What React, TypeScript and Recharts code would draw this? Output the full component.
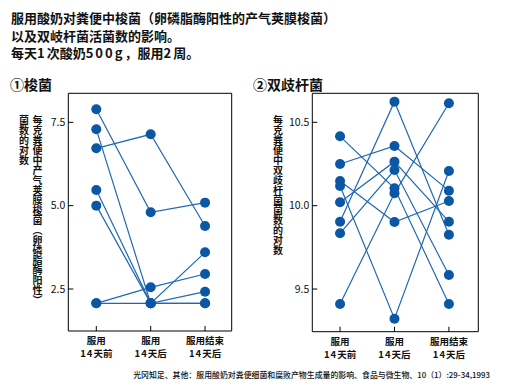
import React from "react";
import { LineChart, Line, XAxis, YAxis, ReferenceArea } from "recharts";

const stageTop = ["服用", "服用", "服用结束"];
const stageBottom = ["14天前", "14天后", "14天后"];

// 梭菌 (log count), one entry per subject
const clostBefore = [7.89, 6.72, 7.29, 5.47, 5.0, 2.07, 2.07];
const clostDuring = [4.8, 7.14, 2.07, 2.07, 2.07, 2.55, 2.07];
const clostAfter = [5.09, 4.39, 3.6, 2.42, 2.07, 2.95, 2.07];
const clostTicks = [2.5, 5.0, 7.5];

// 双歧杆菌 (log count), one entry per subject
const bifidoBefore = [10.416, 10.25, 10.148, 10.118, 10.02, 9.904, 9.834, 9.41];
const bifidoDuring = [10.104, 10.358, 9.902, 9.322, 10.264, 10.624, 10.214, 10.074];
const bifidoAfter = [9.41, 10.09, 10.028, 10.208, 9.904, 9.826, 9.584, 10.614];
const bifidoTicks = [9.5, 10.0, 10.5];

const DOT = "#0b57a4";
const LINE = "#1f68b4";
const FONT = '"Noto Sans CJK SC", "Noto Sans", sans-serif';

function buildRows(cols: number[][]) {
  return cols.map((col, i) => {
    const row: Record<string, number> = { x: i };
    col.forEach((v, j) => (row[`s${j}`] = v));
    return row;
  });
}

function XTick({ x, y, payload }: any) {
  const i = payload.value as number;
  const m = stageBottom[i].match(/^(\d+)(.*)$/);
  return (
    <g>
      <line x1={x} x2={x} y1={y} y2={y - 5} stroke="#000" strokeWidth={1} />
      <text x={x} y={y + 13} textAnchor="middle" fontSize={9.5} fontWeight={600} fill="#111">
        {stageTop[i]}
      </text>
      <text x={x} y={y + 26} textAnchor="middle" fontSize={9.5} fontWeight={600} fill="#111">
        <tspan letterSpacing={1}>{m ? m[1] : ""}</tspan>
        <tspan>{m ? m[2] : stageBottom[i]}</tspan>
      </text>
    </g>
  );
}

function YTick({ x, y, payload }: any) {
  return (
    <g>
      <line x1={x} x2={x + 5} y1={y} y2={y} stroke="#000" strokeWidth={1} />
      <text x={x - 3} y={y} dy="0.35em" textAnchor="end" fontSize={10.5} fill="#111">
        {payload.value.toFixed(1)}
      </text>
    </g>
  );
}

function Panel({
  rows,
  count,
  xDomain,
  yDomain,
  ticks,
  margin,
}: {
  rows: Record<string, number>[];
  count: number;
  xDomain: [number, number];
  yDomain: [number, number];
  ticks: number[];
  margin: { top: number; right: number; bottom: number; left: number };
}) {
  const keys = Array.from({ length: count }, (_, j) => `s${j}`);
  return (
    <LineChart width={240} height={389} data={rows} margin={margin}>
      <XAxis
        type="number"
        dataKey="x"
        domain={xDomain}
        ticks={[0, 1, 2]}
        height={40}
        axisLine={false}
        tickLine={false}
        tickSize={0}
        tickMargin={0}
        tick={<XTick />}
        interval={0}
        allowDataOverflow
      />
      <YAxis
        type="number"
        domain={yDomain}
        ticks={ticks}
        width={40}
        axisLine={false}
        tickLine={false}
        tickSize={0}
        tickMargin={0}
        tick={<YTick />}
        interval={0}
        allowDataOverflow
      />
      <ReferenceArea
        x1={xDomain[0]}
        x2={xDomain[1]}
        y1={yDomain[0]}
        y2={yDomain[1]}
        fill="none"
        stroke="#000"
        strokeWidth={1}
        ifOverflow="visible"
      />
      {keys.map((k) => (
        <Line
          key={`l-${k}`}
          dataKey={k}
          type="linear"
          stroke={LINE}
          strokeWidth={1.2}
          dot={false}
          activeDot={false}
          isAnimationActive={false}
        />
      ))}
      {keys.map((k) => (
        <Line
          key={`d-${k}`}
          dataKey={k}
          type="linear"
          stroke="none"
          dot={{ r: 5, fill: DOT, stroke: "none" }}
          activeDot={false}
          isAnimationActive={false}
        />
      ))}
    </LineChart>
  );
}

function Spaced({ text, gap }: { text: string; gap: number }) {
  return (
    <>
      {text.split(/([0-9a-z]+)/).map((part, i) =>
        /[0-9a-z]/.test(part) ? (
          <span key={i} style={{ letterSpacing: gap }}>
            {part}
          </span>
        ) : (
          <React.Fragment key={i}>{part}</React.Fragment>
        )
      )}
    </>
  );
}

function VText({ text, x, y }: { text: string; x: number; y: number }) {
  return (
    <text
      x={x}
      y={y}
      fontSize={10}
      fontWeight={600}
      fill="#111"
      style={{ writingMode: "vertical-rl", textOrientation: "mixed" }}
    >
      {text}
    </text>
  );
}

const titleLines = [
  "服用酸奶对粪便中梭菌（卵磷脂酶阳性的产气荚膜梭菌）",
  "以及双岐杆菌活菌数的影响。",
  "每天1次酸奶500g，服用2周。",
];

export default function App() {
  const clostRows = buildRows([clostBefore, clostDuring, clostAfter]);
  const bifidoRows = buildRows([bifidoBefore, bifidoDuring, bifidoAfter]);

  return (
    <div
      style={{
        position: "absolute",
        left: 0,
        top: 0,
        width: 510,
        height: 389,
        background: "#fff",
        fontFamily: FONT,
        color: "#111",
        overflow: "hidden",
      }}
    >
      <div style={{ position: "absolute", left: 0, top: 0 }}>
        <Panel
          rows={clostRows}
          count={clostBefore.length}
          xDomain={[-0.515, 2.49]}
          yDomain={[1.24, 8.37]}
          ticks={clostTicks}
          margin={{ top: 93.3, right: 8.3, bottom: 18, left: 28.3 }}
        />
      </div>
      <div style={{ position: "absolute", left: 250, top: 0 }}>
        <Panel
          rows={bifidoRows}
          count={bifidoBefore.length}
          xDomain={[-0.51, 2.54]}
          yDomain={[9.244, 10.674]}
          ticks={bifidoTicks}
          margin={{ top: 93.3, right: 11.7, bottom: 17.3, left: 22.3 }}
        />
      </div>

      <svg
        width={510}
        height={389}
        style={{ position: "absolute", left: 0, top: 0, pointerEvents: "none" }}
      >
        <VText text="每克粪便中产气荚膜梭菌（卵磷脂酶阳性）" x={37.5} y={115.5} />
        <VText text="菌数的对数" x={24} y={115.5} />
        <VText text="每克粪便中双歧杆菌菌数的对数" x={278} y={115.5} />
      </svg>

      <div
        style={{
          position: "absolute",
          left: 11,
          top: 9,
          fontSize: 13,
          fontWeight: 700,
          lineHeight: "17.5px",
          whiteSpace: "nowrap",
        }}
      >
        {titleLines.map((t) => (
          <div key={t}>
            <Spaced text={t} gap={2} />
          </div>
        ))}
      </div>

      <div
        style={{
          position: "absolute",
          left: 10,
          top: 75,
          fontSize: 14,
          fontWeight: 700,
          lineHeight: "18px",
        }}
      >
        ①梭菌
      </div>
      <div
        style={{
          position: "absolute",
          left: 253,
          top: 75,
          fontSize: 14,
          fontWeight: 700,
          lineHeight: "18px",
        }}
      >
        ②双歧杆菌
      </div>

      <div
        style={{
          position: "absolute",
          right: 20,
          top: 370,
          fontSize: 7.9,
          fontWeight: 500,
          lineHeight: "10px",
          whiteSpace: "nowrap",
        }}
      >
        光冈知足、其他：服用酸奶对粪便细菌和腐败产物生成量的影响、食品与微生物、10（1）:29-34,1993
      </div>
    </div>
  );
}
